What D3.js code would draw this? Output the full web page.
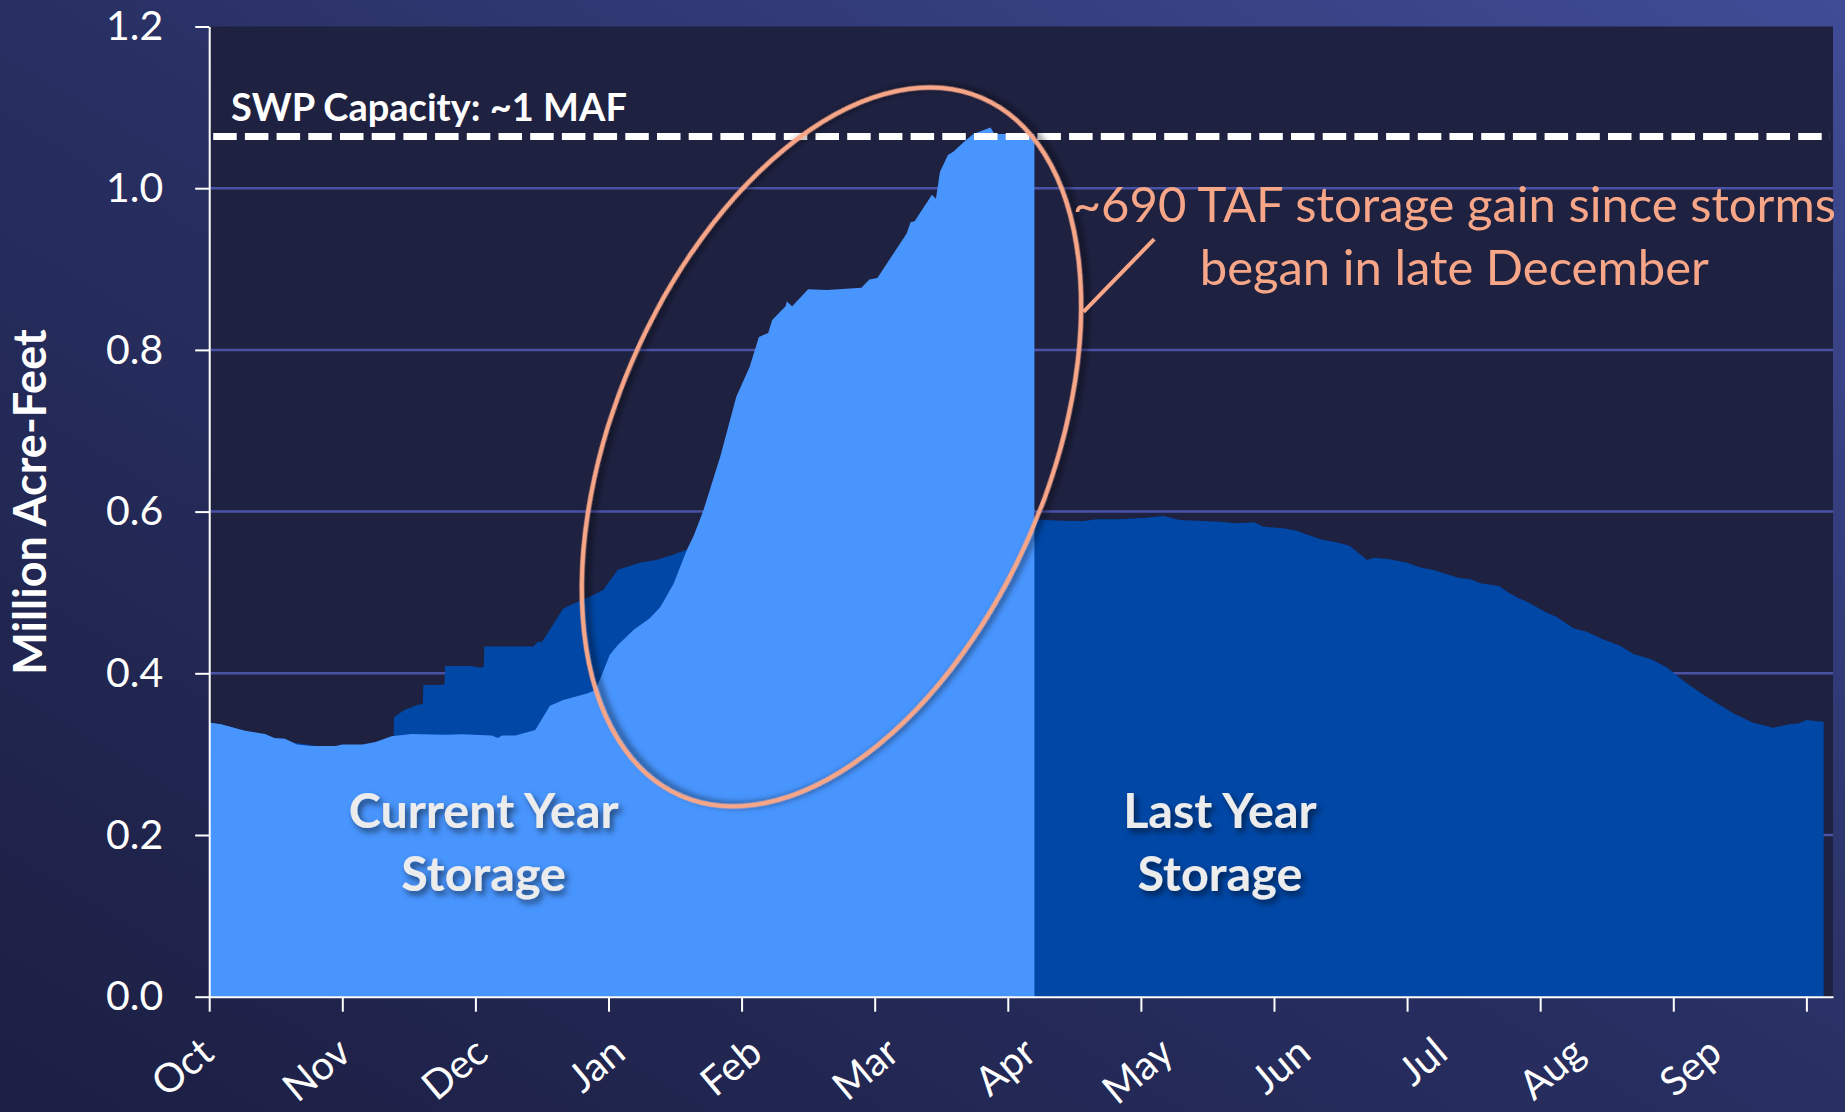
<!DOCTYPE html>
<html>
<head>
<meta charset="utf-8">
<script src="https://cdn.jsdelivr.net/npm/d3@7"></script>
<style>
  body { margin: 0; background: #1e2246; }
  svg { display: block; font-family: Lato, "Noto Sans", sans-serif; }
</style>
</head>
<body>
<svg id="chart" width="1845" height="1112"></svg>
<script>
(() => { // IIFE

    // month labels (water year, Oct -> Sep)
    const months = ["Oct", "Nov", "Dec", "Jan", "Feb", "Mar", "Apr", "May", "Jun", "Jul", "Aug", "Sep"];
    const monthTicks = d3.range(0, 13);
    const yTicks = [0, 0.2, 0.4, 0.6, 0.8, 1.0, 1.2];
    const gridValues = [0.2, 0.4, 0.6, 0.8, 1.0];

    // [months since Oct 1, million acre-feet]
    const currentYear = [
        [0.00, 0.339], [0.09, 0.337], [0.27, 0.329], [0.34, 0.327], [0.42, 0.325],
        [0.49, 0.320], [0.57, 0.319], [0.66, 0.312], [0.77, 0.310], [0.95, 0.310],
        [1.00, 0.312], [1.15, 0.312], [1.25, 0.315], [1.37, 0.322], [1.52, 0.325],
        [1.77, 0.324], [1.90, 0.3245], [2.12, 0.323], [2.17, 0.320], [2.20, 0.323],
        [2.30, 0.323], [2.45, 0.330], [2.56, 0.360], [2.66, 0.367], [2.84, 0.375],
        [2.90, 0.379], [2.94, 0.394], [3.01, 0.423], [3.07, 0.435], [3.19, 0.454],
        [3.31, 0.468], [3.39, 0.482], [3.49, 0.511], [3.59, 0.553], [3.64, 0.570],
        [3.71, 0.600], [3.84, 0.668], [3.96, 0.742], [4.06, 0.779], [4.13, 0.816],
        [4.20, 0.821], [4.23, 0.837], [4.33, 0.854], [4.34, 0.860], [4.38, 0.854],
        [4.50, 0.875], [4.64, 0.874], [4.90, 0.877], [4.96, 0.887], [5.02, 0.889],
        [5.14, 0.919], [5.24, 0.944], [5.27, 0.958], [5.30, 0.959], [5.43, 0.992],
        [5.46, 0.987], [5.49, 1.020], [5.55, 1.041], [5.59, 1.045], [5.67, 1.057],
        [5.74, 1.067], [5.87, 1.075], [5.90, 1.067], [6.20, 1.067]
    ];

    const lastYear = [
        [0.00, 0.335], [0.30, 0.325], [0.60, 0.315], [0.90, 0.308], [1.20, 0.310],
        [1.385, 0.318], [1.389, 0.346], [1.47, 0.355], [1.57, 0.361], [1.605, 0.362],
        [1.609, 0.3855], [1.73, 0.3855], [1.768, 0.386], [1.772, 0.409], [1.97, 0.409],
        [2.035, 0.407], [2.063, 0.408], [2.067, 0.433], [2.435, 0.433], [2.47, 0.439],
        [2.50, 0.439], [2.55, 0.4515], [2.66, 0.480], [2.75, 0.487], [2.85, 0.494],
        [2.96, 0.503], [3.07, 0.528], [3.24, 0.537], [3.36, 0.540], [3.49, 0.547],
        [3.59, 0.553], [4.00, 0.562], [4.50, 0.572], [5.00, 0.580], [5.50, 0.586],
        [6.00, 0.589], [6.20, 0.5905], [6.39, 0.5888], [6.57, 0.5884], [6.67, 0.5905],
        [6.84, 0.5905], [7.04, 0.5925], [7.17, 0.5946], [7.29, 0.5896], [7.59, 0.5875],
        [7.72, 0.5855], [7.85, 0.5868], [7.92, 0.5813], [8.07, 0.5793], [8.17, 0.5764],
        [8.22, 0.5731], [8.35, 0.5657], [8.50, 0.5608], [8.57, 0.5574], [8.70, 0.540],
        [8.75, 0.543], [8.87, 0.541], [9.00, 0.5368], [9.10, 0.531], [9.20, 0.5278],
        [9.30, 0.5225], [9.40, 0.5175], [9.47, 0.5166], [9.55, 0.5113], [9.69, 0.508],
        [9.77, 0.499], [9.84, 0.4928], [9.90, 0.4886], [10.05, 0.475], [10.12, 0.470],
        [10.25, 0.4557], [10.35, 0.4515], [10.47, 0.442], [10.60, 0.434], [10.70, 0.424],
        [10.83, 0.4177], [10.95, 0.4074], [11.10, 0.3876], [11.25, 0.371], [11.45, 0.3505],
        [11.60, 0.3389], [11.75, 0.3327], [11.88, 0.3373], [11.94, 0.338], [12.00, 0.3422],
        [12.05, 0.3414], [12.13, 0.340]
    ];

    const capacity = 1.064;

    const svg = d3.select("svg#chart");
    const width = +svg.attr("width");
    const height = +svg.attr("height");

    const x = d3.scaleLinear().domain([0, 12.2]).range([209.2, 1833]);
    const y = d3.scaleLinear().domain([0, 1.2]).range([996.7, 26.5]);

    // background + filters
    const defs = svg.append("defs");
    const bg = defs.append("linearGradient")
        .attr("id", "bg")
        .attr("x1", 0).attr("y1", 1).attr("x2", 1).attr("y2", 0);
    bg.append("stop").attr("offset", "0%").attr("stop-color", "#1c1f43");
    bg.append("stop").attr("offset", "50%").attr("stop-color", "#282f62");
    bg.append("stop").attr("offset", "100%").attr("stop-color", "#404c96");

    const shadow = defs.append("filter").attr("id", "shadow")
        .attr("x", "-20%").attr("y", "-20%").attr("width", "140%").attr("height", "140%");
    shadow.append("feDropShadow")
        .attr("dx", 3).attr("dy", 4).attr("stdDeviation", 3)
        .attr("flood-color", "#000").attr("flood-opacity", 0.55);

    svg.append("rect")
        .attr("width", width).attr("height", height)
        .attr("fill", "url(#bg)");

    // plot panel
    svg.append("rect")
        .attr("x", x(0)).attr("y", y(1.2))
        .attr("width", x(12.2) - x(0)).attr("height", y(0) - y(1.2))
        .attr("fill", "#1e2140");

    // grid lines
    svg.append("g")
        .selectAll("line")
        .data(gridValues)
        .enter().append("line")
        .attr("x1", x(0)).attr("x2", x(12.2))
        .attr("y1", d => y(d)).attr("y2", d => y(d))
        .style("stroke", "#4a52a6")
        .style("stroke-width", 2.5);

    // areas
    const area = d3.area()
        .x(d => x(d[0]))
        .y0(y(0))
        .y1(d => y(d[1]));

    svg.append("path")
        .datum(lastYear)
        .attr("d", area)
        .attr("fill", "#0047a6");

    svg.append("path")
        .datum(currentYear)
        .attr("d", area)
        .attr("fill", "#4895fe");

    // capacity line
    svg.append("line")
        .attr("x1", x(0) + 4).attr("x2", x(12.2) - 3)
        .attr("y1", y(capacity)).attr("y2", y(capacity))
        .style("stroke", "#fff")
        .style("stroke-width", 7)
        .style("stroke-dasharray", "23.5 8.2");

    svg.append("text")
        .attr("x", x(0.164))
        .attr("y", y(1.083))
        .attr("fill", "#fff")
        .attr("font-size", 38)
        .attr("font-weight", "bold")
        .text("SWP Capacity: ~1 MAF");

    // axes
    const yAxis = svg.append("g")
        .attr("transform", `translate(${x(0)}, 0)`)
        .call(d3.axisLeft(y)
            .tickValues(yTicks)
            .tickFormat(d3.format(".1f"))
            .tickSize(14)
            .tickSizeOuter(0)
            .tickPadding(32));

    const xAxis = svg.append("g")
        .attr("transform", `translate(0, ${y(0)})`)
        .call(d3.axisBottom(x)
            .tickValues(monthTicks)
            .tickSize(15)
            .tickSizeOuter(0)
            .tickFormat(""));

    [yAxis, xAxis].forEach(g => {
        g.attr("font-family", null).attr("font-size", null);
        g.selectAll("path, line").style("stroke", "#fff").style("stroke-width", 2);
    });
    yAxis.selectAll("text")
        .attr("fill", "#fff")
        .attr("font-size", 41);

    // month labels sit a bit wider apart than the ticks, as in the source
    const labelX = d3.scaleLinear().domain([0, 11]).range([x(0) + 7, x(11) + 51]);
    svg.append("g")
        .selectAll("text")
        .data(months)
        .enter().append("text")
        .attr("transform", (d, i) => `translate(${labelX(i)}, ${y(0) + 60}) rotate(-40)`)
        .attr("text-anchor", "end")
        .attr("fill", "#fff")
        .attr("font-size", 40)
        .text(d => d);

    svg.append("text")
        .attr("transform", `translate(46, 502) rotate(-90)`)
        .attr("text-anchor", "middle")
        .attr("fill", "#fff")
        .attr("font-size", 45)
        .attr("font-weight", "bold")
        .text("Million Acre-Feet");

    // series labels
    const seriesLabels = [
        {lines: ["Current Year", "Storage"], at: 2.062},
        {lines: ["Last Year", "Storage"], at: 7.594},
    ];
    seriesLabels.forEach(s => {
        svg.append("g")
            .attr("filter", "url(#shadow)")
            .selectAll("text")
            .data(s.lines)
            .enter().append("text")
            .attr("x", x(s.at))
            .attr("y", (d, i) => y(0.2087) + i * 63)
            .attr("text-anchor", "middle")
            .attr("fill", "#ececec")
            .attr("font-size", 48.5)
            .attr("font-weight", "bold")
            .text(d => d);
    });

    // annotation: circled storm gain
    const salmon = "#f8a688";
    svg.append("ellipse")
        .attr("transform", `translate(${x(4.675)}, ${y(0.680)}) rotate(-66.7)`)
        .attr("rx", 380).attr("ry", 217)
        .attr("fill", "none")
        .attr("filter", "url(#shadow)")
        .style("stroke", salmon)
        .style("stroke-width", 4.5);

    svg.append("line")
        .attr("x1", x(7.10)).attr("y1", y(0.937))
        .attr("x2", x(6.569)).attr("y2", y(0.847))
        .style("stroke", salmon)
        .style("stroke-width", 4);

    svg.append("g")
        .selectAll("text")
        .data(["~690 TAF storage gain since storms", "began in late December"])
        .enter().append("text")
        .attr("x", x(9.355))
        .attr("y", (d, i) => y(0.958) + i * 63)
        .attr("text-anchor", "middle")
        .attr("fill", salmon)
        .attr("font-size", 49)
        .text(d => d);

})();
</script>
</body>
</html>
